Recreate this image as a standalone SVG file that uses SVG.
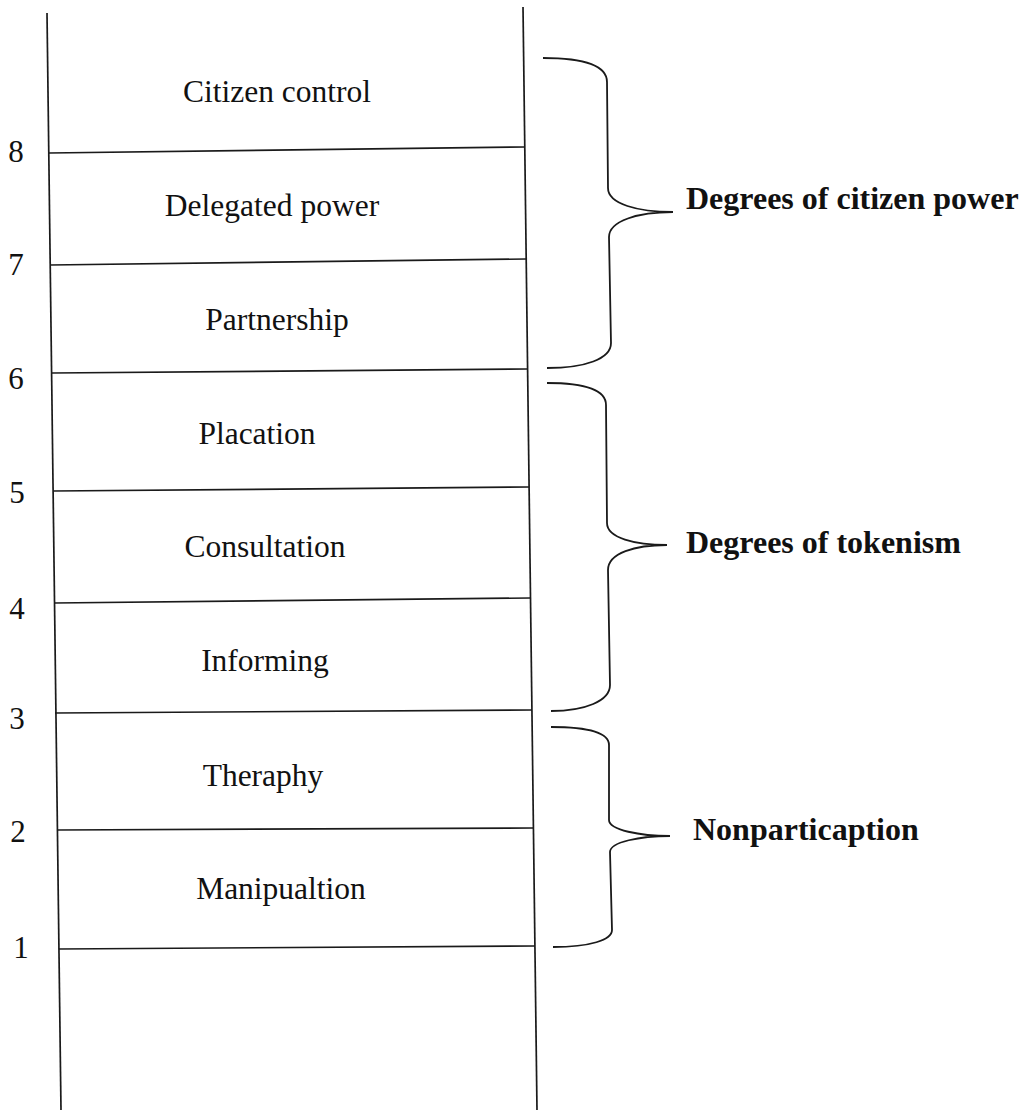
<svg xmlns="http://www.w3.org/2000/svg" width="1027" height="1110" viewBox="0 0 1027 1110">
  <style>
    .ln { stroke: #1a1a1a; stroke-width: 1.7; fill: none; stroke-linecap: butt; }
    .br { stroke: #1a1a1a; stroke-width: 1.8; fill: none; }
    .lbl { font-family: "Liberation Serif", "Times New Roman", serif; font-size: 31.5px; fill: #111; text-anchor: middle; }
    .num { font-family: "Liberation Serif", "Times New Roman", serif; font-size: 31px; fill: #111; text-anchor: middle; }
    .grp { font-family: "Liberation Serif", "Times New Roman", serif; font-size: 32px; font-weight: bold; fill: #111; }
  </style>
  <rect width="1027" height="1110" fill="#ffffff"/>

  <g id="connectors">
    <line class="ln" x1="47" y1="13" x2="61" y2="1110"/>
    <line class="ln" x1="523" y1="7" x2="537" y2="1110"/>
    <line class="ln" x1="49" y1="153" x2="525" y2="147"/>
    <line class="ln" x1="50" y1="265" x2="526" y2="259"/>
    <line class="ln" x1="52" y1="373" x2="527" y2="369"/>
    <line class="ln" x1="53" y1="491" x2="529" y2="487"/>
    <line class="ln" x1="54" y1="603" x2="530" y2="598"/>
    <line class="ln" x1="55" y1="713" x2="532" y2="710"/>
    <line class="ln" x1="57" y1="830" x2="533" y2="828"/>
    <line class="ln" x1="59" y1="949" x2="535" y2="946"/>
  </g>

  <g id="rung-8"><text class="lbl" x="277" y="102">Citizen control</text><text class="num" x="16" y="162">8</text></g>
  <g id="rung-7"><text class="lbl" x="272" y="216">Delegated power</text><text class="num" x="16" y="275">7</text></g>
  <g id="rung-6"><text class="lbl" x="277" y="330">Partnership</text><text class="num" x="16" y="389">6</text></g>
  <g id="rung-5"><text class="lbl" x="257" y="444">Placation</text><text class="num" x="17" y="503">5</text></g>
  <g id="rung-4"><text class="lbl" x="265" y="557">Consultation</text><text class="num" x="17" y="619">4</text></g>
  <g id="rung-3"><text class="lbl" x="265" y="671">Informing</text><text class="num" x="17" y="729">3</text></g>
  <g id="rung-2"><text class="lbl" x="263" y="786">Theraphy</text><text class="num" x="18" y="842">2</text></g>
  <g id="rung-1"><text class="lbl" x="281" y="899">Manipualtion</text><text class="num" x="21" y="958">1</text></g>

  <g id="group-citizen-power">
    <path class="br" d="M543,58 C585,58 607,66 607,82 L608,188 C608,204 638,212 673,212 C638,212 609,221 609,237 L611,343 C611,359 585,368 547,368"/>
    <text class="grp" x="686" y="209">Degrees of citizen power</text>
  </g>
  <g id="group-tokenism">
    <path class="br" d="M547,383 C588,383 606,391 606,405 L607,523 C607,538 635,545 667,545 C635,545 608,553 608,570 L610,685 C610,701 585,711 551,711"/>
    <text class="grp" x="686" y="553">Degrees of tokenism</text>
  </g>
  <g id="group-nonparticipation">
    <path class="br" d="M551,727 C590,727 609,733 609,745 L609,820 C609,830 640,836 670,836 C640,836 610,842 610,852 L612,930 C612,940 590,947 553,947"/>
    <text class="grp" x="693" y="840">Nonparticaption</text>
  </g>
</svg>
